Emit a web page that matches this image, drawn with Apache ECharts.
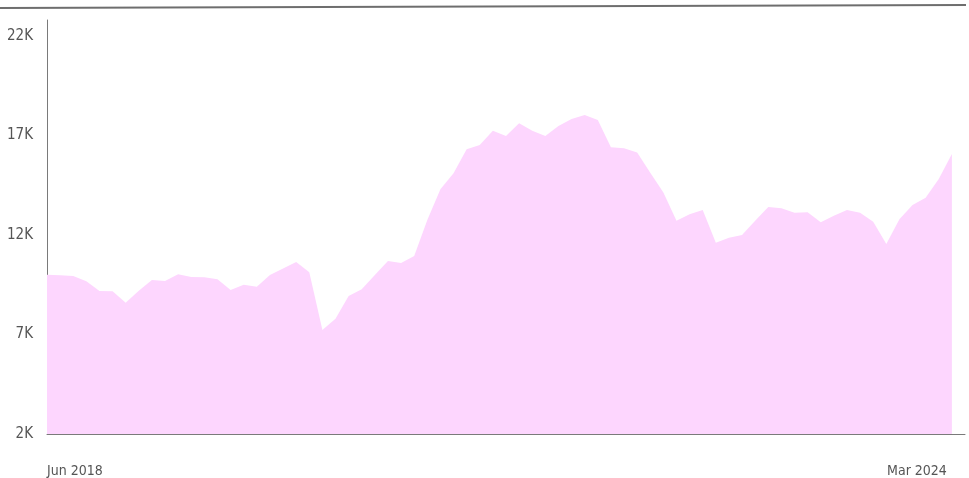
<!DOCTYPE html>
<html>
<head>
<meta charset="utf-8">
<script src="https://cdn.jsdelivr.net/npm/echarts@6/dist/echarts.min.js"></script>
<style>
html,body{margin:0;padding:0;background:#fff;}
#chart{width:969px;height:478px;}
</style>
</head>
<body>
<div id="chart"></div>
<script>
// Monthly categories Jun 2018 .. Mar 2024
var months = [
 'Jun 2018','Jul 2018','Aug 2018','Sep 2018','Oct 2018','Nov 2018','Dec 2018',
 'Jan 2019','Feb 2019','Mar 2019','Apr 2019','May 2019','Jun 2019','Jul 2019','Aug 2019','Sep 2019','Oct 2019','Nov 2019','Dec 2019',
 'Jan 2020','Feb 2020','Mar 2020','Apr 2020','May 2020','Jun 2020','Jul 2020','Aug 2020','Sep 2020','Oct 2020','Nov 2020','Dec 2020',
 'Jan 2021','Feb 2021','Mar 2021','Apr 2021','May 2021','Jun 2021','Jul 2021','Aug 2021','Sep 2021','Oct 2021','Nov 2021','Dec 2021',
 'Jan 2022','Feb 2022','Mar 2022','Apr 2022','May 2022','Jun 2022','Jul 2022','Aug 2022','Sep 2022','Oct 2022','Nov 2022','Dec 2022',
 'Jan 2023','Feb 2023','Mar 2023','Apr 2023','May 2023','Jun 2023','Jul 2023','Aug 2023','Sep 2023','Oct 2023','Nov 2023','Dec 2023',
 'Jan 2024','Feb 2024','Mar 2024'
];
var values = [
 10000, 9970, 9940, 9670, 9190, 9170, 8600,
 9200, 9740, 9690, 10020, 9890, 9870, 9770, 9240, 9500, 9400, 9990, 10310,
 10640, 10130, 7230, 7790, 8930, 9270, 9990, 10690, 10590, 10940, 12750, 14300,
 15100, 16310, 16520, 17230, 16970, 17610, 17230, 16970, 17480, 17830, 18030, 17780,
 16410, 16360, 16140, 15130, 14130, 12720, 13040, 13260, 11610, 11860, 12000, 12720,
 13410, 13340, 13110, 13140, 12640, 12970, 13260, 13120, 12670, 11550, 12790, 13510,
 13870, 14810, 16070
];
var yTicks = [2000, 7000, 12000, 17000, 22000];
var xLabelMonths = ['Jun 2018', 'Mar 2024'];

var FONT = "'Liberation Sans Narrow', 'DejaVu Sans Condensed', 'Roboto', sans-serif";
var xLabelIdx = xLabelMonths.map(function (m) { return months.indexOf(m); });

var chart = echarts.init(document.getElementById('chart'), null, {renderer: 'canvas'});
chart.setOption({
  animation: false,
  backgroundColor: '#ffffff',
  grid: {left: 47, right: 4, top: 20, bottom: 44, containLabel: false},
  xAxis: {
    type: 'value',
    min: 0,
    max: months.length,
    axisLine: {show: true, lineStyle: {color: '#7a7a7a', width: 1}},
    axisTick: {show: false},
    splitLine: {show: false},
    axisLabel: {
      customValues: xLabelIdx,
      formatter: function (v) { return months[Math.round(v)] || ''; },
      alignMinLabel: 'left',
      alignMaxLabel: 'right',
      padding: [0, 5, 0, 0],
      margin: 30,
      color: '#555555',
      fontSize: 14,
      fontFamily: FONT
    }
  },
  yAxis: {
    type: 'value',
    min: 2000,
    max: 22800,
    axisLine: {show: true, lineStyle: {color: '#7a7a7a', width: 1}},
    axisTick: {show: false},
    splitLine: {show: false},
    axisLabel: {
      customValues: yTicks,
      formatter: function (v) { return Math.round(v / 1000) + 'K'; },
      margin: 14,
      color: '#555555',
      fontSize: 15,
      fontFamily: FONT
    }
  },
  graphic: [{
    type: 'line',
    shape: {x1: 0, y1: 8, x2: 966, y2: 5},
    style: {stroke: '#6e6e6e', lineWidth: 2},
    silent: true
  }],
  series: [{
    type: 'line',
    data: values.map(function (v, i) { return [i, v]; }),
    showSymbol: false,
    symbol: 'none',
    lineStyle: {width: 0},
    areaStyle: {color: '#fdd6fe', opacity: 1},
    z: 1
  }]
});
</script>
</body>
</html>
